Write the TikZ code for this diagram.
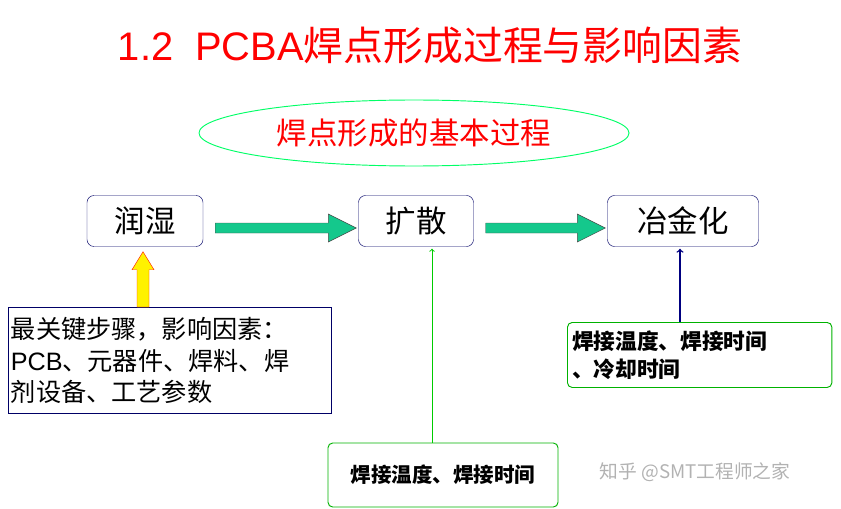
\documentclass[tikz,border=0pt]{standalone}
\usepackage{fontspec}
\setmainfont{Noto Sans CJK SC}
\newfontfamily\latinsans{Liberation Sans}
\usetikzlibrary{positioning,calc,shapes.geometric}
\definecolor{flowgreen}{RGB}{20,200,140}

\begin{document}
\begin{tikzpicture}[
    x=0.03cm, y=-0.03cm,
    stage/.style={rectangle, draw=blue!40!black, rounded corners=6pt, minimum height=51*0.03cm, font=\fontsize{26}{28}\selectfont},
    note/.style={rectangle, draw, thick, align=left, inner sep=4pt},
    fatarrow/.style={draw=black!70, fill=flowgreen}
]
    \useasboundingbox (0,0) rectangle (841,509);

    % title
    \node[text=red, font=\fontsize{34}{36}\selectfont] (title) at (430,45) {{\latinsans 1.2\ \ PCBA}焊点形成过程与影响因素};
    \node[ellipse, draw=green!60!cyan, thick, minimum width=430*0.03cm, minimum height=66*0.03cm, text=red, font=\fontsize{26}{28}\selectfont] (basic) at (414,133) {焊点形成的基本过程};

    % stages
    \node[stage, minimum width=116*0.03cm] (wet) at (145,221) {润湿};
    \node[stage, minimum width=115*0.03cm] (diff) at (416,221) {扩散};
    \node[stage, minimum width=151*0.03cm] (alloy) at (683,221) {冶金化};

    % fat arrows between stages
    \path[fatarrow] ($(wet.east)+(12,2)$) -- ($(diff.west)+(-30,2)$) -- ($(diff.west)+(-30,-7)$)
        -- ($(diff.west)+(-2,7)$) -- ($(diff.west)+(-30,21)$) -- ($(diff.west)+(-30,12)$)
        -- ($(wet.east)+(12,12)$) -- cycle;
    \path[fatarrow] ($(diff.east)+(12,2)$) -- ($(alloy.west)+(-30,2)$) -- ($(alloy.west)+(-30,-7)$)
        -- ($(alloy.west)+(-2,7)$) -- ($(alloy.west)+(-30,21)$) -- ($(alloy.west)+(-30,12)$)
        -- ($(diff.east)+(12,12)$) -- cycle;

    % notes
    \node[note, draw=blue!40!black, anchor=north west, text width=318*0.03cm, minimum height=106*0.03cm, inner sep=2pt, font=\fontsize{21.5}{27}\selectfont] (key) at (8,307)
        {最关键步骤，影响因素：\\{\latinsans PCB}、元器件、焊料、焊\\剂设备、工艺参数};
    \node[note, draw=green!70!black, rounded corners=4pt, minimum width=230*0.03cm, minimum height=64*0.03cm, font=\bfseries\fontsize{17.5}{20}\selectfont] (time) at (443,475) {焊接温度、焊接时间};
    \node[note, draw=green!70!black, rounded corners=4pt, anchor=north west, text width=255*0.03cm, minimum height=65*0.03cm, font=\bfseries\fontsize{18.5}{24}\selectfont] (cool) at (567,322) {焊接温度、焊接时间\\、冷却时间};

    % arrows from notes
    \coordinate (yl) at ($(wet.south)+(-8,0)$);
    \coordinate (yr) at ($(wet.south)+(4,0)$);
    \path[draw=red!70!orange, fill=yellow] (yl |- key.north) -- ($(wet.south)+(-8,23)$)
        -- ($(wet.south)+(-13,23)$) -- ($(wet.south)+(-2,5)$) -- ($(wet.south)+(9,23)$)
        -- ($(wet.south)+(4,23)$) -- (yr |- key.north) -- cycle;
    \draw[green!80!black, thick, ->] ($(time.north -| diff.south)+(16,0)$) -- ($(diff.south)+(16,2)$);
    \draw[blue!50!black, very thick, ->] ($(cool.north -| alloy.south)+(-3,0)$) -- ($(alloy.south)+(-3,2)$);

    % watermark
    \node[gray!60, font=\fontsize{16}{18}\selectfont] (mark) at (695,472) {知乎 @SMT工程师之家};
\end{tikzpicture}
\end{document}
